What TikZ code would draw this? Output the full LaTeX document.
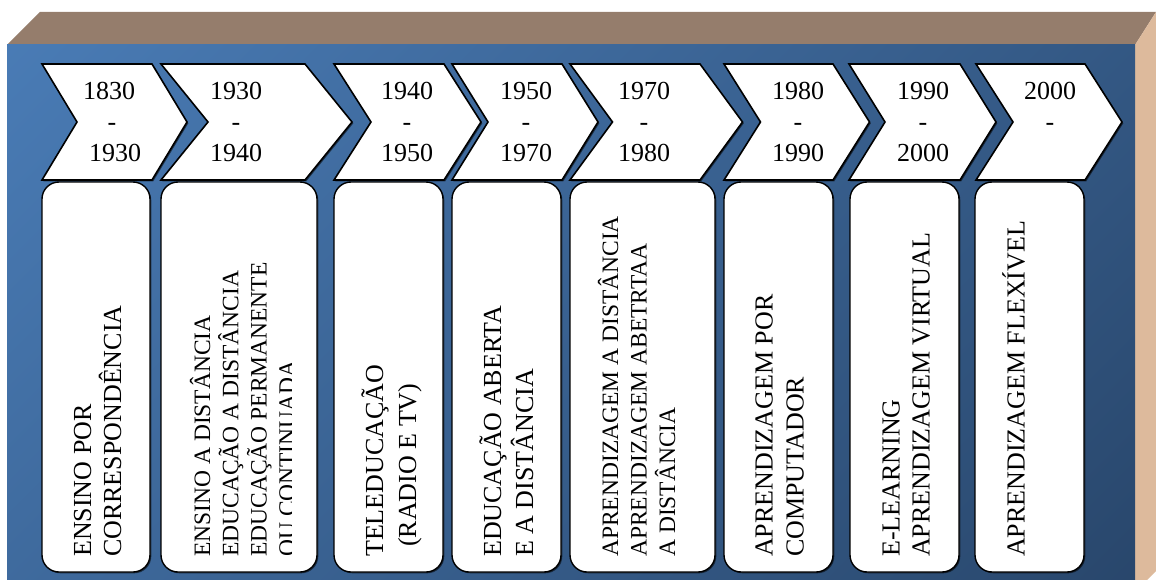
\documentclass[tikz,border=0pt]{standalone}
\usepackage{fontspec}
\setmainfont{Liberation Serif}
\usetikzlibrary{shadows}

\definecolor{topface}{HTML}{957D6C}
\definecolor{sideface}{HTML}{DDBA9C}
\definecolor{frontlight}{HTML}{5086C4}
\definecolor{frontdark}{HTML}{223C5D}

% linear blue ramp for the front face, light end at the top
\pgfdeclareverticalshading{frontramp}{100bp}{color(0bp)=(frontdark); color(100bp)=(frontlight)}

\tikzset{
  softshadow/.style={drop shadow={shadow xshift=1.3pt, shadow yshift=-1.3pt, opacity=0.55, fill=black}},
  chevron/.style={fill=white, draw=black, line width=1.6pt, line join=miter, softshadow},
  stagebox/.style={fill=white, draw=black, line width=1.4pt, rounded corners=17pt,
    inner sep=0pt, minimum height=390pt, softshadow},
  yearlabel/.style={inner sep=0pt, anchor=north, align=center, font=\fontsize{26}{31}\selectfont},
  stagelabel/.style={inner sep=0pt, rotate=90, anchor=base west},
}

% chevron: left x, right x, pointer depth
\newcommand\timechevron[3]{%
  \filldraw[chevron] (#1,64) -- (#2,64) -- ({#2+#3},122) -- (#2,180)
    -- (#1,180) -- ({#1+#3},122) -- cycle;}

% vertical text lines: name, first baseline x, line pitch, font size, lines
\newcommand\stagetext[5]{%
  \foreach \ln [count=\i] in {#5} {
    \node[stagelabel, font=\fontsize{#4}{#4}\selectfont] (#1-\i)
      at ({#2+(\i-1)*#3}, 557) {\ln};
  }}

\begin{document}
\begin{tikzpicture}[x=1pt, y=-1pt]
  \useasboundingbox (0,0) rectangle (1156,580);

  % block faces
  \fill[topface] (7,45) -- (40,12) -- (1156,12) -- (1135,45) -- cycle;
  \fill[sideface] (1135,45) -- (1156,12) -- (1156,571) -- (1147,580) -- (1135,580) -- cycle;
  \shade[shading=frontramp, shading angle=45] (7,45) rectangle (1135,580);

  % period chevrons
  \timechevron{42}{152}{35}
  \timechevron{161}{305}{47}
  \timechevron{334}{444}{37}
  \timechevron{452}{562}{36}
  \timechevron{570}{700}{42.5}
  \timechevron{724}{833}{36.5}
  \timechevron{849}{960}{36}
  \timechevron{976}{1085}{37}

  % period labels
  \node[yearlabel] (y1) at (112,82) {1830\kern6pt\\-\\\kern6pt 1930};
  \node[yearlabel] (y2) at (236,82) {1930\\-\\1940};
  \node[yearlabel] (y3) at (407,82) {1940\\-\\1950};
  \node[yearlabel] (y4) at (526,82) {1950\\-\\1970};
  \node[yearlabel] (y5) at (644,82) {1970\\-\\1980};
  \node[yearlabel] (y6) at (798,82) {1980\\-\\1990};
  \node[yearlabel] (y7) at (923,82) {1990\\-\\2000};
  \node[yearlabel] (y8) at (1050,82) {2000\\-};

  % stage boxes
  \foreach \n/\l/\r in {1/42/150, 2/161/317, 3/334/443, 4/452/561,
                        5/570/715, 6/724/833, 7/850/959, 8/975/1084} {
    \node[stagebox, minimum width={\r-\l}] (box\n) at ({(\l+\r)/2}, 377) {};
  }

  % stage texts
  \stagetext{t1}{91}{30}{26}{ENSINO POR, CORRESPONDÊNCIA}
  \begin{scope}
    \clip (161,182) rectangle (291,572);
    \stagetext{t2}{210}{28.3}{23.5}{ENSINO A DISTÂNCIA, EDUCAÇÃO A DISTÂNCIA,
      EDUCAÇÃO PERMANENTE, OU CONTINUADA}
  \end{scope}
  \stagetext{t3}{383}{33}{26}{TELEDUCAÇÃO, \kern10pt(RADIO E TV)}
  \stagetext{t4}{501}{32}{26}{EDUCAÇÃO ABERTA, E A DISTÂNCIA}
  \stagetext{t5}{618}{28.5}{23.5}{APRENDIZAGEM A DISTÂNCIA,
    APRENDIZAGEM ABETRTAA, A DISTÂNCIA}
  \stagetext{t6}{772.5}{31}{26}{APRENDIZAGEM POR, COMPUTADOR}
  \stagetext{t7}{899.5}{30}{26}{E-LEARNING, APRENDIZAGEM VIRTUAL}
  \stagetext{t8}{1024.5}{30}{26}{APRENDIZAGEM FLEXÍVEL}
\end{tikzpicture}
\end{document}
